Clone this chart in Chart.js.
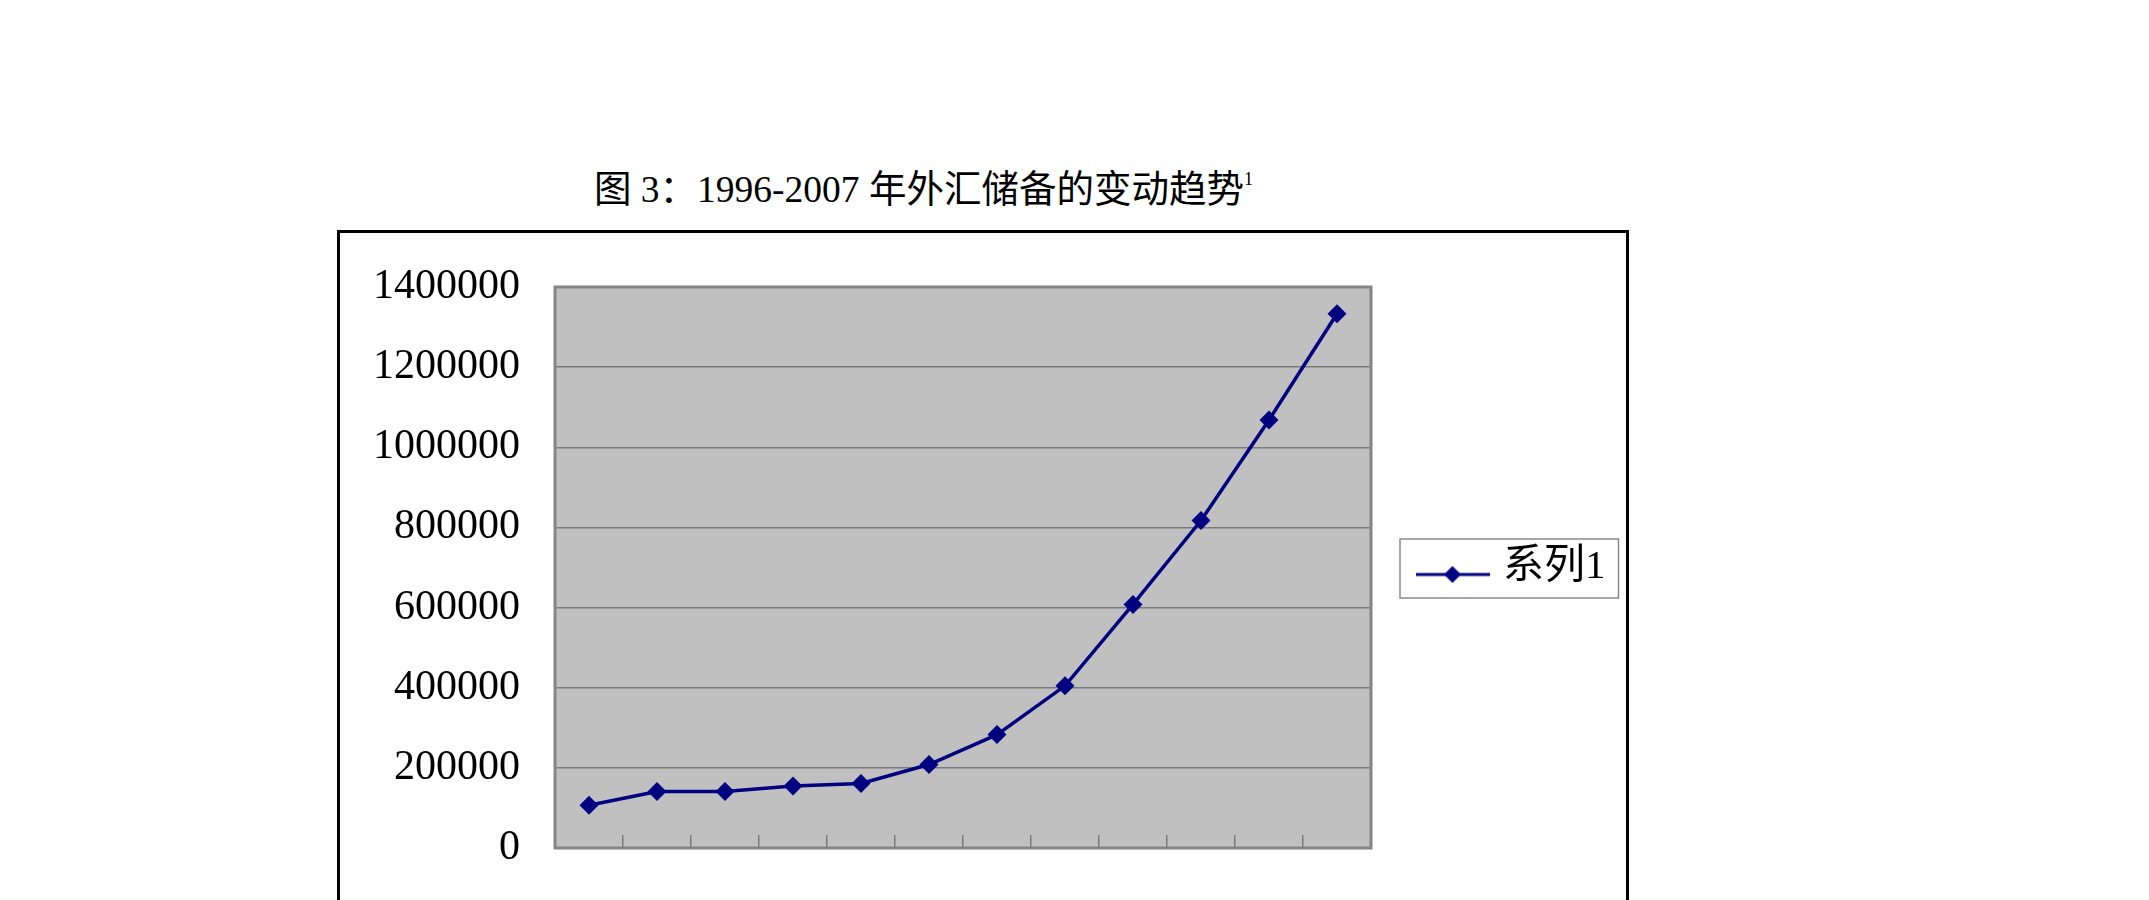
<!DOCTYPE html>
<html><head><meta charset="utf-8">
<script src="https://cdn.jsdelivr.net/npm/chart.js@4.4.1/dist/chart.umd.min.js"></script>
<style>
html,body{margin:0;padding:0;width:2149px;height:900px;overflow:hidden;background:#fff;}
#title{position:absolute;left:594px;top:171px;font-family:"Liberation Serif","Noto Sans CJK SC",serif;font-size:37.5px;line-height:37.5px;white-space:nowrap;color:#000;}
#title .sup{font-size:18px;position:relative;top:-17px;}
#frame{position:absolute;left:337px;top:230px;width:1292px;height:800px;border:3px solid #000;box-sizing:border-box;}
#c{position:absolute;left:0;top:0;}
</style></head><body>
<div id="title">图 3：1996-2007 年外汇储备的变动趋势<span class="sup">1</span></div>
<div id="frame"></div>
<canvas id="c" width="2149" height="1000"></canvas>
<script>
// ---- data ----
const years = ['1996','1997','1998','1999','2000','2001','2002','2003','2004','2005','2006','2007'];
const reserves = [106750, 141000, 141000, 154750, 161250, 208250, 283000, 404750, 607750, 817250, 1068250, 1333250];
const yTickValues = [0, 200000, 400000, 600000, 800000, 1000000, 1200000, 1400000];
const seriesName = '系列1';

// ---- style / layout ----
const NAVY = '#000080';
const SERIF = '"Liberation Serif", "Noto Sans CJK SC", serif';
const CANVAS_W = 2149, CANVAS_H = 1000;
const PLOT = {left: 555, top: 287, right: 1371, bottom: 848};
const PAD_LEFT = 340;
const LEG_FS = 41, LEG_PAD = 51.5, PSW = 60;

// legend sample (line + diamond)
const sample = document.createElement('canvas');
sample.width = 74; sample.height = 36;
(function(){
  const s = sample.getContext('2d');
  s.strokeStyle = NAVY; s.lineWidth = 3;
  s.beginPath(); s.moveTo(0, 25); s.lineTo(74, 25); s.stroke();
  s.fillStyle = NAVY;
  s.beginPath(); s.moveTo(37, 16.5); s.lineTo(45.5, 25); s.lineTo(37, 33.5); s.lineTo(28.5, 25); s.closePath(); s.fill();
})();

const mctx = document.createElement('canvas').getContext('2d');
mctx.font = LEG_FS + 'px ' + SERIF;
const legTextW = mctx.measureText(seriesName).width;
const legendW = LEG_PAD + PSW + LEG_FS / 2 + legTextW + 10;

const plotFrame = {
  id: 'plotFrame',
  beforeDraw(chart) {
    const {ctx, chartArea: a} = chart;
    ctx.save();
    ctx.fillStyle = '#c0c0c0';
    ctx.fillRect(a.left, a.top, a.right - a.left, a.bottom - a.top);
    ctx.restore();
  },
  beforeDatasetsDraw(chart) {
    const {ctx, chartArea: a} = chart;
    ctx.save();
    ctx.strokeStyle = '#858585';
    ctx.lineWidth = 3;
    ctx.strokeRect(a.left, a.top, a.right - a.left, a.bottom - a.top);
    ctx.restore();
  }
};

const legendFrame = {
  id: 'legendFrame',
  afterDraw(chart) {
    const hb = chart.legend && chart.legend.legendHitBoxes && chart.legend.legendHitBoxes[0];
    if (!hb) return;
    const ctx = chart.ctx;
    const left = hb.left - 22.5;
    const right = hb.left + hb.width + 13;
    const cy = hb.top + hb.height / 2 + 1;
    ctx.save();
    ctx.strokeStyle = '#8a8a8a';
    ctx.lineWidth = 1.5;
    ctx.strokeRect(left, cy - 29.5, right - left, 59);
    ctx.restore();
  }
};

new Chart(document.getElementById('c'), {
  type: 'line',
  data: {
    labels: years,
    datasets: [{
      label: seriesName,
      data: reserves,
      borderColor: NAVY,
      backgroundColor: NAVY,
      borderWidth: 3.5,
      pointStyle: 'rectRot',
      pointRadius: 9.5,
      pointBackgroundColor: NAVY,
      pointBorderColor: NAVY,
      pointBorderWidth: 0,
      tension: 0,
      fill: false
    }]
  },
  options: {
    responsive: false,
    animation: false,
    devicePixelRatio: 1,
    layout: {
      padding: {left: PAD_LEFT, top: PLOT.top, right: CANVAS_W - PLOT.right - legendW, bottom: CANVAS_H - PLOT.bottom}
    },
    scales: {
      x: {
        type: 'category',
        offset: true,
        grid: {offset: true, drawOnChartArea: false, drawTicks: true, tickLength: -13, color: '#7a7a7a', lineWidth: 1.5},
        ticks: {display: false},
        border: {display: false},
        afterFit(s) { s.height = 0; }
      },
      y: {
        min: 0, max: 1400000,
        afterBuildTicks(s) { s.ticks = yTickValues.map(v => ({value: v})); },
        ticks: {font: {family: SERIF, size: 42}, color: '#000', padding: 35, callback: v => String(v)},
        grid: {color: '#7a7a7a', lineWidth: 1.5, drawTicks: false},
        border: {display: false},
        afterFit(s) { s.width = PLOT.left - PAD_LEFT; }
      }
    },
    plugins: {
      legend: {
        position: 'right',
        align: 'center',
        labels: {
          usePointStyle: true,
          pointStyle: sample,
          pointStyleWidth: PSW,
          padding: LEG_PAD,
          color: '#000',
          font: {family: SERIF, size: LEG_FS}
        }
      },
      title: {display: false},
      tooltip: {enabled: false}
    }
  },
  plugins: [plotFrame, legendFrame]
});
</script>
</body></html>
